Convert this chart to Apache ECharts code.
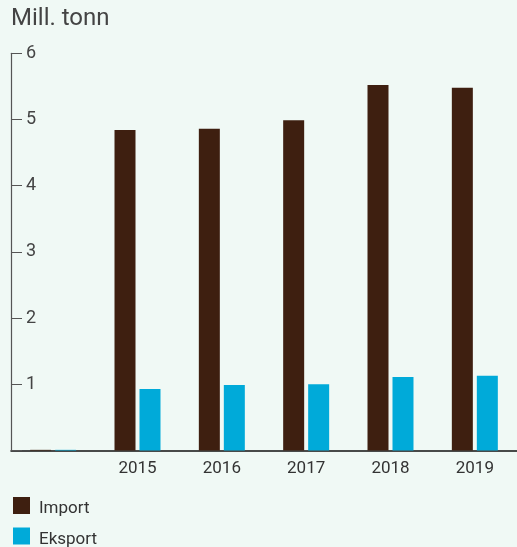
<!DOCTYPE html>
<html><head><meta charset="utf-8">
<script src="https://cdn.jsdelivr.net/npm/echarts@6/dist/echarts.min.js"></script>
<style>html,body{margin:0;padding:0;background:#f0f9f5;}#c{width:517px;height:547px;}</style>
</head><body><div id="c"></div>
<script>
const categories = ["", "2015", "2016", "2017", "2018", "2019"];
const importValues = [0.01, 4.84, 4.86, 4.99, 5.52, 5.48];
const eksportValues = [0.01, 0.93, 0.99, 1.0, 1.11, 1.13];
const yTicks = [0, 1, 2, 3, 4, 5, 6];

const chart = echarts.init(document.getElementById('c'));
const font = 'Roboto, "Noto Sans", sans-serif';
chart.setOption({
  backgroundColor: '#f0f9f5',
  animation: false,
  textStyle: {fontFamily: font},
  title: {text: 'Mill. tonn', left: 6, top: 2, textStyle: {fontSize: 24, fontWeight: 'normal', color: '#444', fontFamily: font}},
  legend: {
    orient: 'vertical', left: 13, top: 497, height: 80, padding: 0, itemWidth: 17, itemHeight: 17, itemGap: 10, icon: 'rect',
    formatter: '{a|{name}}',
    textStyle: {fontSize: 17, color: '#333', fontFamily: font,
      rich: {a: {fontSize: 17, color: '#333', fontFamily: font, padding: [7, 0, 0, 4]}}},
    data: ['Import', 'Eksport']
  },
  grid: {left: 11, right: 0, top: 53.3, bottom: 96.5, containLabel: false},
  xAxis: {
    type: 'category', data: categories, boundaryGap: true,
    axisLine: {lineStyle: {color: '#111', width: 1.5}},
    axisTick: {inside: true, length: 9, lineStyle: {color: '#555'}},
    axisLabel: {fontSize: 17, color: '#333', margin: 10, fontFamily: font}
  },
  yAxis: {
    type: 'value', min: 0, max: 6, interval: 1,
    axisLine: {show: true, lineStyle: {color: '#555', width: 1.2}},
    axisTick: {show: true, inside: true, length: 11, lineStyle: {color: '#555'}},
    splitLine: {show: false},
    axisLabel: {inside: true, margin: 15, fontSize: 18, color: '#444', fontFamily: font,
      padding: [5,0,0,0],
      formatter: v => yTicks.includes(v) && v !== 0 ? String(v) : ''}
  },
  series: [
    {name: 'Import', type: 'bar', data: importValues, barWidth: 21, barGap: '19%', itemStyle: {color: '#3e1f10'}},
    {name: 'Eksport', type: 'bar', data: eksportValues, barWidth: 21, itemStyle: {color: '#00aad9'}}
  ]
});
</script></body></html>
